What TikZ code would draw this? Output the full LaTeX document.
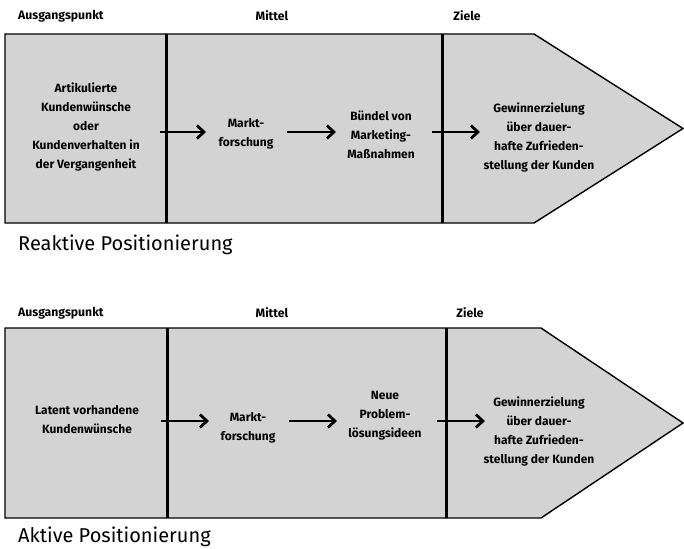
\documentclass[tikz,border=0pt]{standalone}
\usepackage{fontspec}
\setmainfont{Fira Sans}
\usetikzlibrary{arrows.meta}
\begin{document}
\begin{tikzpicture}[x=1pt,y=-1pt,
  frame/.style={draw=black,line width=1.4pt,fill=boxgray},
  divider/.style={draw=black,line width=3pt},
  body/.style={align=center,font=\bfseries\fontsize{12}{19}\selectfont,inner sep=0pt},
  head/.style={font=\bfseries\fontsize{12.2}{14}\selectfont,inner sep=0pt},
  title/.style={font=\fontsize{20}{22}\selectfont,anchor=west,inner sep=0pt},
  flow/.style={draw=black,line width=2.8pt,-{Straight Barb[length=7pt,width=13pt,line width=2.8pt]}}]
\definecolor{boxgray}{HTML}{D3D3D3}
\useasboundingbox (0,0) rectangle (684,548);
% ---------- top diagram ----------
\path[frame] (5,34) -- (534,34) -- (683,128.5) -- (534,223) -- (5,223) -- cycle;
\draw[divider] (166,34) -- (166,223);
\draw[divider] (442,34) -- (442,223);
\node[head,anchor=west] (h1) at (18,16) {Ausgangspunkt};
\node[head] (h2) at (272,16) {Mittel};
\node[head] (h3) at (467,16) {Ziele};
\node[body] (a1) at (86,127) {Artikulierte\\Kundenwünsche\\oder\\Kundenverhalten in\\der Vergangenheit};
\node[body] (a2) at (246,134) {Markt-\\forschung};
\node[body] (a3) at (381,135) {Bündel von\\Marketing-\\Maßnahmen};
\node[body] (a4) at (539,137) {Gewinnerzielung\\über dauer-\\hafte Zufrieden-\\stellung der Kunden};
\coordinate (a1s) at (160,132); \coordinate (a1e) at (206,132);
\coordinate (a2s) at (287,132); \coordinate (a2e) at (336,132);
\coordinate (a3s) at (432,132); \coordinate (a3e) at (480,132);
\draw[flow] (a1s) -- (a1e);
\draw[flow] (a2s) -- (a2e);
\draw[flow] (a3s) -- (a3e);
\node[title] (t1) at (18,245) {Reaktive Positionierung};
% ---------- bottom diagram ----------
\path[frame] (5,328) -- (541,328) -- (683,423) -- (541,518) -- (5,518) -- cycle;
\draw[divider] (167,328) -- (167,518);
\draw[divider] (446,328) -- (446,518);
\node[head,anchor=west] (g1) at (18,313) {Ausgangspunkt};
\node[head] (g2) at (272,313) {Mittel};
\node[head] (g3) at (470,313) {Ziele};
\node[body] (b1) at (87,420) {Latent vorhandene\\Kundenwünsche};
\node[body] (b2) at (248,428) {Markt-\\forschung};
\node[body] (b3) at (385,416) {Neue\\Problem-\\lösungsideen};
\node[body] (b4) at (539,431) {Gewinnerzielung\\über dauer-\\hafte Zufrieden-\\stellung der Kunden};
\coordinate (b1s) at (161,421); \coordinate (b1e) at (209,421);
\coordinate (b2s) at (289,421); \coordinate (b2e) at (337,421);
\coordinate (b3s) at (437,421); \coordinate (b3e) at (485,421);
\draw[flow] (b1s) -- (b1e);
\draw[flow] (b2s) -- (b2e);
\draw[flow] (b3s) -- (b3e);
\node[title] (t2) at (18,537) {Aktive Positionierung};
\end{tikzpicture}
\end{document}
